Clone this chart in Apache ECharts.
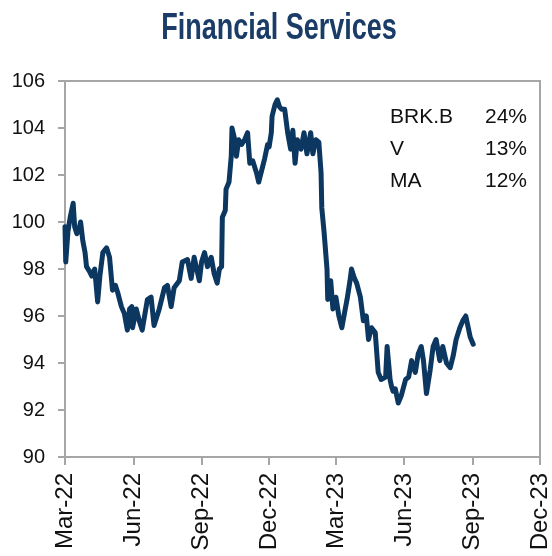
<!DOCTYPE html>
<html>
<head>
<meta charset="utf-8">
<script src="https://cdn.jsdelivr.net/npm/echarts@6/dist/echarts.min.js"></script>
<style>
  html, body { margin: 0; padding: 0; background: #fff; }
  #chart { width: 552px; height: 556px; }
</style>
</head>
<body>
<div id="chart"></div>
<script>
// index level
const dates = [
  '2022-03-01', '2022-03-02', '2022-03-05', '2022-03-08', '2022-03-12', '2022-03-14', '2022-03-17', '2022-03-20',
  '2022-03-22', '2022-03-25', '2022-03-28', '2022-03-30', '2022-04-03', '2022-04-06', '2022-04-10', '2022-04-14',
  '2022-04-17', '2022-04-21', '2022-04-26', '2022-04-30', '2022-05-04', '2022-05-08', '2022-05-11', '2022-05-16',
  '2022-05-20', '2022-05-24', '2022-05-27', '2022-05-30', '2022-05-31', '2022-06-02', '2022-06-05', '2022-06-09',
  '2022-06-13', '2022-06-20', '2022-06-25', '2022-06-29', '2022-07-06', '2022-07-13', '2022-07-17', '2022-07-22',
  '2022-07-26', '2022-08-02', '2022-08-06', '2022-08-13', '2022-08-18', '2022-08-22', '2022-08-29', '2022-09-01',
  '2022-09-05', '2022-09-09', '2022-09-14', '2022-09-18', '2022-09-22', '2022-09-25', '2022-09-28', '2022-09-29',
  '2022-10-03', '2022-10-04', '2022-10-08', '2022-10-11', '2022-10-12', '2022-10-15', '2022-10-18', '2022-10-21',
  '2022-10-25', '2022-10-29', '2022-11-02', '2022-11-05', '2022-11-09', '2022-11-14', '2022-11-17', '2022-11-21',
  '2022-11-25', '2022-11-29', '2022-12-01', '2022-12-04', '2022-12-05', '2022-12-09', '2022-12-12', '2022-12-15',
  '2022-12-18', '2022-12-22', '2022-12-26', '2022-12-30', '2023-01-02', '2023-01-05', '2023-01-08', '2023-01-13',
  '2023-01-17', '2023-01-21', '2023-01-26', '2023-01-29', '2023-02-02', '2023-02-06', '2023-02-09', '2023-02-10',
  '2023-02-13', '2023-02-14', '2023-02-17', '2023-02-18', '2023-02-20', '2023-02-22', '2023-02-25', '2023-03-01',
  '2023-03-05', '2023-03-09', '2023-03-13', '2023-03-16', '2023-03-20', '2023-03-22', '2023-03-26', '2023-03-29',
  '2023-04-03', '2023-04-07', '2023-04-11', '2023-04-14', '2023-04-18', '2023-04-23', '2023-04-27', '2023-05-01',
  '2023-05-07', '2023-05-09', '2023-05-11', '2023-05-13', '2023-05-15', '2023-05-17', '2023-05-20', '2023-05-24',
  '2023-05-28', '2023-06-03', '2023-06-07', '2023-06-11', '2023-06-16', '2023-06-20', '2023-06-24', '2023-06-27',
  '2023-07-01', '2023-07-06', '2023-07-10', '2023-07-14', '2023-07-19', '2023-07-23', '2023-07-28', '2023-08-02',
  '2023-08-06', '2023-08-10', '2023-08-15', '2023-08-19', '2023-08-23', '2023-08-29', '2023-09-02'
];
const values = [
  99.8, 98.3, 99.6, 100.2, 100.8, 99.8, 99.5, 99.7,
  100.0, 99.2, 98.7, 98.1, 97.9, 97.7, 98.0, 96.6,
  97.7, 98.7, 98.9, 98.5, 97.1, 97.3, 97.0, 96.4,
  96.1, 95.4, 96.3, 96.4, 95.5, 95.5, 96.3, 95.8,
  95.4, 96.7, 96.8, 95.6, 96.3, 97.2, 97.3, 96.4,
  97.2, 97.5, 98.3, 98.4, 97.6, 98.5, 97.5, 98.3,
  98.7, 98.1, 98.5, 97.8, 97.4, 98.0, 98.1, 100.2,
  100.5, 101.4, 101.7, 102.8, 104.0, 103.6, 102.8, 103.5,
  103.3, 103.5, 103.8, 102.5, 102.6, 102.1, 101.7, 102.2,
  102.7, 103.3, 103.2, 103.8, 104.5, 105.0, 105.2, 104.9,
  104.8, 104.8, 103.8, 103.1, 103.9, 102.5, 103.5, 103.1,
  103.8, 102.9, 103.8, 102.9, 103.5, 103.4, 102.1, 100.6,
  99.6, 99.2, 98.0, 96.7, 97.2, 97.5, 96.3, 96.8,
  96.0, 95.5, 96.2, 96.7, 97.5, 98.0, 97.6, 97.4,
  96.8, 95.8, 96.0, 95.0, 95.5, 95.3, 93.6, 93.3,
  93.4, 94.7, 94.7, 93.3, 93.0, 92.8, 92.9, 92.3,
  92.6, 93.3, 93.4, 94.1, 93.6, 94.4, 94.7, 94.1,
  92.7, 93.7, 94.7, 95.0, 94.1, 94.7, 94.0, 93.8,
  94.3, 95.0, 95.5, 95.8, 96.0, 95.1, 94.8
];

// x axis ticks: first day of each quarter
const tickDates = ['2022-03-01', '2022-06-01', '2022-09-01', '2022-12-01', '2023-03-01', '2023-06-01', '2023-09-01', '2023-12-01'];
const tickLabels = ['Mar-22', 'Jun-22', 'Sep-22', 'Dec-22', 'Mar-23', 'Jun-23', 'Sep-23', 'Dec-23'];

// top holdings box
const holdings = ['BRK.B', 'V', 'MA'];
const weights = ['24%', '13%', '12%'];

const navy = '#0b3760';
const axisGrey = '#a6a6a6';
const font = '"Liberation Sans", Arial, sans-serif';

const toTime = s => {
  const p = s.split('-').map(Number);
  return Date.UTC(p[0], p[1] - 1, p[2]);
};
const tickTimes = tickDates.map(toTime);

const chart = echarts.init(document.getElementById('chart'));

// title drawn as narrow bold text (no Arial Narrow installed, so squeeze it)
const graphics = [{
  type: 'text', x: 279, y: 29, scaleX: 0.73,
  style: {
    text: 'Financial Services', fill: '#1a3c66',
    font: 'bold 37px ' + font, textAlign: 'center', textVerticalAlign: 'middle'
  }
}];
holdings.forEach((name, i) => {
  graphics.push({
    type: 'text', left: 390, top: 107 + i * 32,
    style: { text: name, fill: '#111', font: '21px ' + font }
  });
  graphics.push({
    type: 'text', right: 25, top: 107 + i * 32,
    style: { text: weights[i], fill: '#111', font: '21px ' + font }
  });
});

const option = {
  animation: false,
  grid: {
    left: 65, right: 10, top: 81, bottom: 99,
    show: true, borderColor: axisGrey, borderWidth: 2
  },
  xAxis: {
    type: 'value',
    min: tickTimes[0],
    max: tickTimes[tickTimes.length - 1],
    axisLine: { lineStyle: { color: axisGrey, width: 2 } },
    axisTick: { show: true, length: 8, lineStyle: { color: axisGrey, width: 2 }, customValues: tickTimes },
    splitLine: { show: false },
    axisLabel: {
      customValues: tickTimes,
      rotate: 90,
      margin: 16,
      fontSize: 24,
      fontFamily: font,
      color: '#111',
      formatter: v => tickLabels[tickTimes.indexOf(v)] || ''
    }
  },
  yAxis: {
    type: 'value',
    min: 90, max: 106, interval: 2,
    axisLine: { show: true, lineStyle: { color: axisGrey, width: 2 } },
    axisTick: { show: true, length: 7, lineStyle: { color: axisGrey, width: 2 } },
    splitLine: { show: false },
    axisLabel: {
      margin: 20,
      fontSize: 20,
      fontFamily: font,
      color: '#111'
    }
  },
  series: [{
    type: 'line',
    data: dates.map((d, i) => [toTime(d), values[i]]),
    showSymbol: false,
    lineStyle: { color: navy, width: 5, join: 'round', cap: 'round' }
  }],
  graphic: graphics
};

chart.setOption(option);
</script>
</body>
</html>
